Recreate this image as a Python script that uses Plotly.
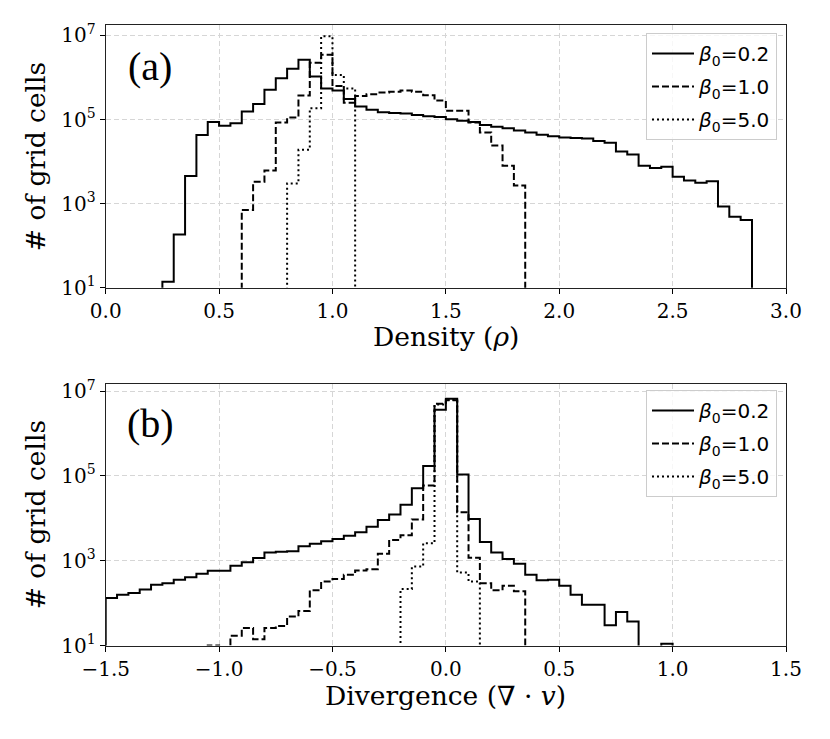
import plotly.graph_objects as go
from plotly.subplots import make_subplots

BIN = 0.05  # histogram bin width, both panels

# (a) density: first bin edge and counts per bin
rho_start_02 = 0.25
rho_counts_02 = [14, 186, 4570, 42700, 87100, 70800, 81300, 155000, 234000, 513000,
                 955000, 1620000, 2630000, 1050000, 550000, 490000, 309000, 204000, 170000, 148000,
                 143000, 139000, 129000, 120000, 115000, 102000, 93300, 87100, 74100, 67600,
                 61700, 55000, 49000, 43600, 39800, 37200, 36300, 35500, 30900, 28200,
                 17400, 14800, 7940, 7080, 7590, 4370, 3550, 3160, 3390, 851,
                 490, 407]
rho_start_10 = 0.60
rho_counts_10 = [708, 3310, 6170, 85100, 112000, 372000, 2240000, 3470000, 631000, 251000,
                 363000, 398000, 437000, 457000, 490000, 457000, 380000, 282000, 162000, 162000,
                 85100, 49000, 24000, 7940, 2690]
rho_start_50 = 0.80
rho_counts_50 = [3020, 19100, 186000, 9550000, 1150000, 550000]

# (b) divergence
div_start_02 = -1.50
div_counts_02 = [132, 158, 174, 209, 269, 295, 355, 407, 490, 575,
                 575, 759, 912, 1150, 1550, 1620, 1660, 2190, 2510, 2880,
                 3240, 3890, 4680, 6310, 9120, 12300, 20900, 51300, 170000, 3630000,
                 6610000, 107000, 9550, 2750, 1550, 1100, 851, 468, 347, 355,
                 257, 158, 91, 91, 30, 62, 37, 0, 0, 11]
div_start_10 = -1.05
div_counts_10 = [10, 0, 17, 26, 14, 26, 29, 48, 65, 200,
                 324, 372, 468, 589, 631, 1450, 3090, 3980, 9330, 58900,
                 5010000, 6030000, 13800, 1170, 295, 200, 257, 191]
div_start_50 = -0.20
div_counts_50 = [214, 724, 2570, 4790000, 6170000, 525, 324]

series_names = ["<i>β</i><sub>0</sub>=0.2", "<i>β</i><sub>0</sub>=1.0", "<i>β</i><sub>0</sub>=5.0"]
rho_ticks = [0.0, 0.5, 1.0, 1.5, 2.0, 2.5, 3.0]
rho_ticktext = ["0.0", "0.5", "1.0", "1.5", "2.0", "2.5", "3.0"]
div_ticks = [-1.5, -1.0, -0.5, 0.0, 0.5, 1.0, 1.5]
div_ticktext = ["\u22121.5", "\u22121.0", "\u22120.5", "0.0", "0.5", "1.0", "1.5"]
y_ticks = [1e1, 1e3, 1e5, 1e7]
y_ticktext = ["10<sup>1</sup>", "10<sup>3</sup>", "10<sup>5</sup>", "10<sup>7</sup>"]

FLOOR = 1  # empty bins fall below the visible log range
dashes = ["solid", "7px,3px", "2px,3px"]


def step_xy(start, counts):
    edges = [round(start + BIN * i, 4) for i in range(len(counts) + 1)]
    ys = [c if c > 0 else FLOOR for c in counts]
    return [edges[0]] + edges, [FLOOR] + ys + [FLOOR]


fig = make_subplots(rows=2, cols=1)

panels = [
    (1, "legend", [(rho_start_02, rho_counts_02), (rho_start_10, rho_counts_10), (rho_start_50, rho_counts_50)]),
    (2, "legend2", [(div_start_02, div_counts_02), (div_start_10, div_counts_10), (div_start_50, div_counts_50)]),
]
for row, leg, data in panels:
    for i, (st, cnt) in enumerate(data):
        x, y = step_xy(st, cnt)
        fig.add_trace(go.Scatter(
            x=x, y=y, mode="lines", line_shape="hv",
            line=dict(color="black", width=2, dash=dashes[i]),
            name=series_names[i], legend=leg, legendgroup="%s_%d" % (leg, i),
        ), row=row, col=1)

axis_common = dict(
    automargin=False,
    ticks="outside", ticklen=5, tickwidth=1, tickcolor="black",
    showline=True, linecolor="#222222", linewidth=1, mirror=True,
    showgrid=True, gridcolor="#d6d6d6", griddash="5px,3px", gridwidth=1,
    zeroline=False, tickfont=dict(family="DejaVu Serif", size=20, color="black"),
)
xdom = [105.7 / 830, 786 / 830]
xmid = (xdom[0] + xdom[1]) / 2
title_font = dict(family="DejaVu Serif", size=26.5, color="black")
legend_common = dict(
    xanchor="right", yanchor="top", bgcolor="rgba(255,255,255,0.8)",
    bordercolor="#cccccc", borderwidth=1, itemwidth=42, tracegroupgap=4,
    font=dict(family="DejaVu Sans", size=20, color="black"),
)

fig.update_xaxes(axis_common)
fig.update_yaxes(axis_common)

fig.update_layout(
    width=830, height=739,
    margin=dict(l=0, r=0, t=0, b=0),
    plot_bgcolor="white", paper_bgcolor="white",
    font=dict(family="DejaVu Serif", size=20, color="black"),
    xaxis=dict(domain=xdom, range=[0, 3], tickvals=rho_ticks, ticktext=rho_ticktext),
    yaxis=dict(domain=[1 - 287.8 / 739, 1 - 25.3 / 739], type="log", range=[1, 7.24],
               tickvals=y_ticks, ticktext=y_ticktext,
               title=dict(text="# of grid cells", font=title_font, standoff=8)),
    xaxis2=dict(domain=xdom, range=[-1.5, 1.5], tickvals=div_ticks, ticktext=div_ticktext),
    yaxis2=dict(domain=[1 - 645.5 / 739, 1 - 383.8 / 739], type="log", range=[1, 7.17],
                tickvals=y_ticks, ticktext=y_ticktext,
                title=dict(text="# of grid cells", font=title_font, standoff=8)),
    legend=dict(legend_common, x=777 / 830, y=1 - 33 / 739),
    legend2=dict(legend_common, x=777 / 830, y=1 - 390 / 739),
    annotations=[
        dict(text="(a)", x=150 / 830, y=1 - 67 / 739, xref="paper", yref="paper",
             xanchor="center", yanchor="middle", showarrow=False,
             font=dict(family="Liberation Serif", size=40, color="black")),
        dict(text="(b)", x=150 / 830, y=1 - 424 / 739, xref="paper", yref="paper",
             xanchor="center", yanchor="middle", showarrow=False,
             font=dict(family="Liberation Serif", size=40, color="black")),
        # x-axis titles placed as annotations for exact spacing under the tick labels
        dict(text="Density (<i>ρ</i>)", x=xmid, y=1 - 336 / 739, xref="paper", yref="paper",
             xanchor="center", yanchor="middle", showarrow=False, font=title_font),
        dict(text="Divergence (∇ · <i>v</i>)", x=xmid, y=1 - 695 / 739, xref="paper", yref="paper",
             xanchor="center", yanchor="middle", showarrow=False, font=title_font),
    ],
)

fig.write_html("out.html", config={"displayModeBar": False},
               post_script="document.body.style.margin='0px';")
